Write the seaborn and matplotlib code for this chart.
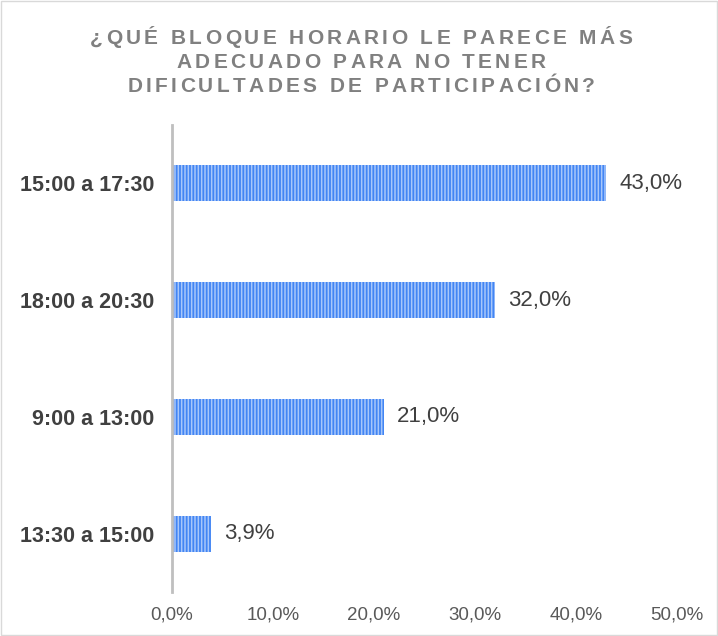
import matplotlib
matplotlib.use("Agg")
import matplotlib.pyplot as plt
import seaborn as sns
import pandas as pd
from matplotlib.patches import Rectangle

# data
bloques = ["15:00 a 17:30", "18:00 a 20:30", "9:00 a 13:00", "13:30 a 15:00"]
porcentajes = [43.0, 32.0, 21.0, 3.9]
ticks = [0, 10, 20, 30, 40, 50]
titulo = ["¿QUÉ BLOQUE HORARIO LE PARECE MÁS",
          "ADECUADO PARA NO TENER",
          "DIFICULTADES DE PARTICIPACIÓN?"]

df = pd.DataFrame({"bloque": bloques, "pct": porcentajes})

sns.set_theme(style="white")
plt.rcParams["font.family"] = ["Liberation Sans", "DejaVu Sans"]
plt.rcParams["hatch.linewidth"] = 1.1

fig = plt.figure(figsize=(7.18, 6.36), dpi=100)
ax = fig.add_axes([0.2396, 0.069, 0.7034, 0.7345])

sns.barplot(data=df, x="pct", y="bloque", orient="h", color="#4285f4",
            width=0.31, saturation=1, ax=ax)
for bar in ax.patches:
    bar.set_hatch("|||||")
    bar.set_edgecolor("#a8c7fa")
    bar.set_linewidth(0)

ax.set_xlim(0, 50)
ax.set_ylim(3.5, -0.5)
ax.set_xticks(ticks)
ax.set_xticklabels([f"{t:.1f}%".replace(".", ",") for t in ticks],
                   fontsize=13.5, color="#595959")
ax.tick_params(axis="x", length=0, pad=10)
ax.tick_params(axis="y", length=0, pad=13)
for lbl in ax.get_yticklabels():
    lbl.set_fontsize(15.5)
    lbl.set_fontweight("bold")
    lbl.set_color("#404040")
ax.set_xlabel("")
ax.set_ylabel("")
for s in ["top", "right", "bottom"]:
    ax.spines[s].set_visible(False)
ax.spines["left"].set_color("#bfbfbf")
ax.spines["left"].set_linewidth(2)

for i, v in enumerate(porcentajes):
    ax.text(v + 1.3, i, f"{v:.1f}%".replace(".", ","), va="center", ha="left",
            fontsize=16, color="#404040")

# title with letter spacing, one character at a time
renderer = fig.canvas.get_renderer()
tsize = 15
def char_widths(line):
    out = []
    for ch in line:
        t = fig.text(0, 0, ch, fontsize=tsize, fontweight="bold")
        out.append(t.get_window_extent(renderer).width if ch != " " else tsize * 0.4)
        t.remove()
    return out

w0 = char_widths(titulo[0])
spacing = (542 - sum(w0)) / (len(titulo[0]) - 1)
y0 = 636 - 38
for k, line in enumerate(titulo):
    widths = char_widths(line)
    total = sum(widths) + spacing * (len(line) - 1)
    x = 361 - total / 2
    y = y0 - k * 24
    for ch, w in zip(line, widths):
        fig.text(x / 718, y / 636, ch, fontsize=tsize, fontweight="bold",
                 color="#808080", ha="left", va="center")
        x += w + spacing

fig.patches.append(Rectangle((0.001, 0.001), 0.997, 0.997, transform=fig.transFigure,
                             fill=False, edgecolor="#d9d9d9", linewidth=1))

fig.savefig("out.png", dpi=100)
